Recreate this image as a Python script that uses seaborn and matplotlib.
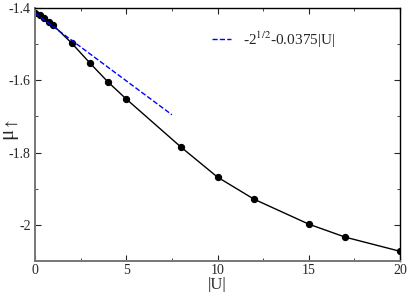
import numpy as np
import pandas as pd
import matplotlib
matplotlib.use("Agg")
import matplotlib.pyplot as plt
import seaborn as sns
from matplotlib.ticker import MultipleLocator

# data
u_vals = [0, 0.25, 0.5, 0.75, 1, 2, 3, 4, 5, 8, 10, 12, 15, 17, 20]
mu_vals = [-1.414, -1.421, -1.429, -1.438, -1.448, -1.497, -1.552, -1.605, -1.652,
           -1.785, -1.868, -1.929, -1.998, -2.034, -2.073]

# asymptote -sqrt(2) - 0.0375|U|, drawn between its two end points
fit_u = [0, 7.5]
fit_mu = [-1.4142, -1.6955]

sns.set_style("ticks")
plt.rcParams['font.family'] = ['Liberation Serif', 'DejaVu Serif']
plt.rcParams['mathtext.fontset'] = 'stix'

fig = plt.figure(figsize=(4.07, 2.92), dpi=100)
ax = fig.add_axes([0.086, 0.106, 0.897, 0.867])

df = pd.DataFrame({'U': u_vals, 'mu': mu_vals})
sns.lineplot(data=df, x='U', y='mu', color='black', marker='o', markersize=4.5,
             markeredgecolor='black', linewidth=1, ax=ax)

fit = pd.DataFrame({'U': fit_u, 'mu': fit_mu})
sns.lineplot(data=fit, x='U', y='mu', color='blue', linestyle='--', linewidth=1,
             label=r'-2$^{1/2}$-0.0375|U|', ax=ax)

ax.set_xlim(0, 20)
ax.set_ylim(-2.1, -1.4)
ax.xaxis.set_minor_locator(MultipleLocator(2.5))
ax.yaxis.set_minor_locator(MultipleLocator(0.1))
ax.set_yticks([-1.4, -1.6, -1.8, -2.0])
ax.set_yticklabels(['-1.4', '-1.6', '-1.8', '-2'])
ax.set_xticks([0, 5, 10, 15, 20])
ax.set_xticklabels(['0', '5', '10', '15', '20'])
ax.tick_params(which='both', direction='in', top=True, right=True, labelsize=10, pad=3)
ax.tick_params(axis='x', which='major', pad=2)
ax.tick_params(which='major', length=4)
ax.tick_params(which='minor', length=2)

for s in ['left', 'bottom']:
    ax.spines[s].set_color('#777777')
    ax.spines[s].set_linewidth(1.4)
for s in ['top', 'right']:
    ax.spines[s].set_color('black')
    ax.spines[s].set_linewidth(1)

ax.set_xlabel('|U|', fontsize=12, va='center')
ax.xaxis.set_label_coords(0.5, -0.094)
ax.set_ylabel(r'μ$_{\uparrow}$', fontsize=15, va='center')
ax.yaxis.set_label_coords(-0.064, 0.52)

ax.legend(loc='upper right', bbox_to_anchor=(0.86, 0.97), frameon=False, fontsize=11,
          handlelength=1.2, handletextpad=0.8)

fig.savefig('out.png', dpi=100)
